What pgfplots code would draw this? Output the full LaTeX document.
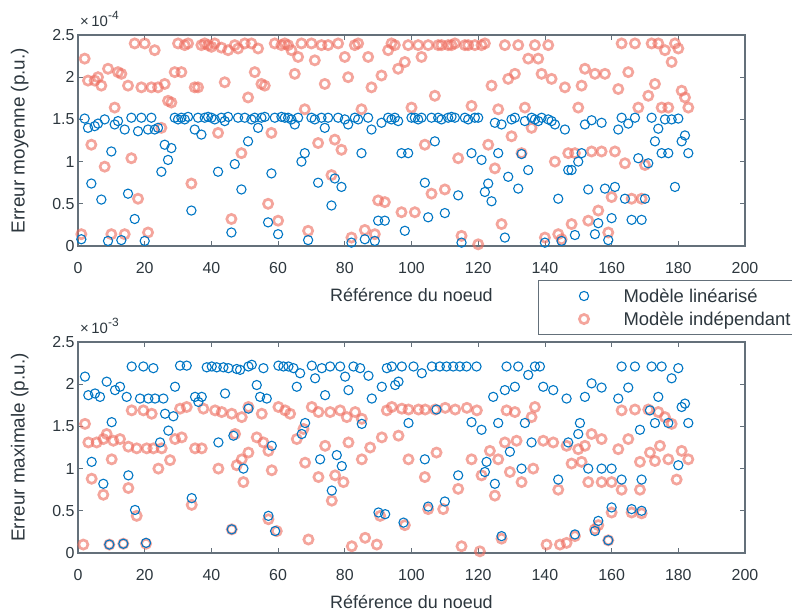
\documentclass[border=0pt]{standalone}
\usepackage{pgfplots}
\pgfplotsset{compat=1.18}
\usepackage{fontspec}
\setmainfont{Liberation Sans}
\definecolor{mblue}{RGB}{0,118,196}
\definecolor{mred}{RGB}{238,110,96}
\definecolor{axcol}{RGB}{100,112,122}
\definecolor{txtcol}{RGB}{45,55,62}
\pgfplotsset{
  mystyle/.style={
    scale only axis, width=667bp, height=211bp,
    xmin=0, xmax=200, ymin=0, ymax=2.5,
    xtick={0,20,...,200}, ytick={0,0.5,1,1.5,2,2.5},
    yticklabels={0,0.5,1,1.5,2,2.5},
    tick align=inside, axis line style={axcol, line width=1.2bp},
    major tick style={axcol, line width=0.8bp}, major tick length=5bp,
    every tick label/.append style={font=\fontsize{16}{18}\selectfont, text=txtcol},
    every x tick label/.append style={yshift=-13bp},
    /pgf/number format/assume math mode=true,
    label style={text=txtcol},
    xlabel={Référence du noeud},
    xlabel style={yshift=-8bp, font=\fontsize{18}{20}\selectfont},
    ylabel style={yshift=17bp, font=\fontsize{19}{21}\selectfont},
    clip=false,
  },
  bl/.style={only marks, mark=o, mark size=4.6bp, mblue, mark options={line width=1.1bp}},
  rd/.style={only marks, mark=o, mark size=4.6bp, mred, mark options={line width=2.7bp, draw opacity=0.62}},
}
\begin{document}
\begin{tikzpicture}
\begin{axis}[mystyle, at={(0,0)}, anchor=north west,
  ylabel={Erreur moyenne (p.u.)},
  legend cell align=left,
  legend style={at={(axis description cs:0.6897,-0.161)}, anchor=north west,
    draw=axcol, line width=1bp, font=\fontsize{18.5}{20}\selectfont, text=txtcol,
    inner xsep=2bp, inner ysep=6bp, row sep=4bp},
  legend image code/.code={\path (0bp,0bp) (80bp,0bp); \draw[#1] plot coordinates {(43bp,0bp)};},
]
\node[anchor=south west, font=\fontsize{15}{17}\selectfont, text=txtcol, inner sep=0pt] at (rel axis cs:0,1) [yshift=8bp,xshift=2bp] {×\,10\raisebox{7bp}{\fontsize{12}{13}\selectfont -4}};
\addplot[rd, forget plot] coordinates {
(1,0.14)(2,2.22)(3,1.96)(4,1.20)(5,1.96)(6,2.00)(7,1.90)(8,0.94)(9,2.10)(10,0.14)
(11,1.64)(12,2.06)(13,2.04)(14,0.14)(15,1.90)(16,1.04)(17,2.40)(18,0.56)(19,1.88)(20,2.40)
(21,0.16)(22,1.88)(23,2.32)(24,1.88)(25,1.40)(26,1.92)(27,1.72)(28,1.70)(29,2.06)(30,2.40)
(31,2.06)(32,2.38)(33,2.40)(34,0.74)(35,1.88)(36,1.88)(37,2.38)(38,2.40)(39,2.38)(40,2.36)
(41,2.40)(42,1.34)(43,2.35)(44,1.94)(45,2.32)(46,0.32)(47,2.38)(48,2.34)(49,1.10)(50,2.40)
(51,1.76)(52,2.40)(53,2.06)(54,2.34)(55,1.92)(56,1.90)(57,0.50)(58,1.34)(59,2.40)(60,0.30)
(61,2.38)(62,2.40)(63,2.38)(64,2.32)(65,2.04)(66,2.24)(67,2.40)(68,1.62)(69,0.18)(70,2.40)
(71,2.20)(72,1.22)(73,2.38)(74,1.92)(75,2.38)(76,0.84)(77,1.26)(78,2.40)(79,1.14)(80,2.24)
(81,2.00)(82,0.10)(83,2.38)(84,2.40)(85,1.62)(86,0.19)(87,2.24)(88,1.88)(89,0.14)(90,0.54)
(91,2.02)(92,0.52)(93,2.32)(94,2.40)(95,2.38)(96,2.10)(97,0.40)(98,2.18)(99,2.38)(100,1.64)
(101,0.40)(102,2.38)(103,2.24)(104,1.20)(105,2.38)(106,0.62)(107,1.78)(108,2.38)(109,2.38)(110,0.67)
(111,2.38)(112,2.38)(113,2.40)(114,1.04)(115,0.12)(116,2.38)(117,2.38)(118,1.66)(119,2.38)(120,0.02)
(121,2.38)(122,2.40)(123,1.20)(124,1.90)(125,0.92)(126,1.62)(127,0.26)(128,2.38)(129,1.98)(130,1.30)
(131,2.04)(132,2.38)(133,1.10)(134,1.64)(135,2.22)(136,1.40)(137,2.38)(138,2.22)(139,2.04)(140,0.10)
(141,2.38)(142,1.98)(143,1.00)(144,0.14)(145,0.08)(146,1.88)(147,1.10)(148,0.26)(149,1.10)(150,1.64)
(151,1.90)(152,2.10)(153,0.30)(154,1.12)(155,2.04)(156,0.42)(157,1.12)(158,2.04)(159,0.16)(160,0.58)
(161,1.12)(162,1.86)(163,2.40)(164,0.98)(165,2.06)(166,0.56)(167,2.40)(168,1.64)(169,0.56)(170,0.96)
(171,1.78)(172,2.40)(173,1.92)(174,2.40)(175,1.64)(176,2.32)(177,1.64)(178,2.18)(179,2.40)(180,2.34)
(181,1.84)(182,1.76)(183,1.64)
};
\addplot[bl, forget plot] coordinates {
(1,0.08)(2,1.51)(3,1.40)(4,0.74)(5,1.42)(6,1.45)(7,0.55)(8,1.50)(9,0.06)(10,1.12)
(11,1.44)(12,1.48)(13,0.07)(14,1.38)(15,0.62)(16,1.52)(17,0.32)(18,1.36)(19,1.52)(20,0.06)
(21,1.38)(22,1.52)(23,1.38)(24,1.40)(25,0.88)(26,1.20)(27,1.02)(28,1.16)(29,1.52)(30,1.50)
(31,1.52)(32,1.50)(33,1.53)(34,0.42)(35,1.38)(36,1.52)(37,1.32)(38,1.52)(39,1.53)(40,1.52)
(41,1.50)(42,0.88)(43,1.52)(44,1.48)(45,1.53)(46,0.16)(47,0.97)(48,1.52)(49,0.67)(50,1.52)
(51,1.24)(52,1.50)(53,1.52)(54,1.40)(55,1.52)(56,1.53)(57,0.28)(58,0.86)(59,1.52)(60,0.14)
(61,1.53)(62,1.52)(63,1.52)(64,1.50)(65,1.44)(66,1.52)(67,1.00)(68,1.10)(69,0.07)(70,1.52)
(71,1.50)(72,0.75)(73,1.52)(74,1.40)(75,1.52)(76,0.48)(77,0.80)(78,1.52)(79,0.70)(80,1.50)
(81,1.44)(82,0.04)(83,1.52)(84,1.50)(85,1.10)(86,0.08)(87,1.52)(88,1.38)(89,0.06)(90,0.30)
(91,1.46)(92,0.30)(93,1.52)(94,1.50)(95,1.52)(96,1.48)(97,1.10)(98,0.18)(99,1.10)(100,1.52)
(101,1.52)(102,1.50)(103,1.52)(104,0.75)(105,0.34)(106,1.52)(107,1.24)(108,1.52)(109,1.50)(110,0.39)
(111,1.52)(112,1.53)(113,1.52)(114,0.60)(115,0.04)(116,1.52)(117,1.50)(118,1.10)(119,1.52)(120,1.52)
(121,1.02)(122,0.64)(123,0.74)(124,0.53)(125,1.46)(126,1.10)(127,1.44)(128,0.10)(129,0.82)(130,1.50)
(131,1.52)(132,0.68)(133,1.09)(134,1.48)(135,0.90)(136,1.52)(137,1.50)(138,1.48)(139,1.52)(140,0.04)
(141,1.50)(142,1.48)(143,1.44)(144,0.56)(145,0.06)(146,1.38)(147,0.90)(148,0.90)(149,0.13)(150,1.00)
(151,1.10)(152,1.44)(153,0.67)(154,1.49)(155,0.14)(156,0.27)(157,1.46)(158,0.68)(159,0.07)(160,0.33)
(161,0.70)(162,1.38)(163,1.52)(164,0.56)(165,1.45)(166,0.31)(167,1.52)(168,1.04)(169,0.31)(170,0.56)
(171,0.98)(172,1.52)(173,1.24)(174,1.39)(175,1.10)(176,1.50)(177,1.10)(178,1.50)(179,0.70)(180,1.51)
(181,1.24)(182,1.31)(183,1.10)
};
\addlegendimage{bl}
\addlegendentry{Modèle linéarisé}
\addlegendimage{rd}
\addlegendentry{Modèle indépendant}
\end{axis}

\begin{axis}[mystyle, at={(0,-307bp)}, anchor=north west,
  ylabel={Erreur maximale (p.u.)}]
\node[anchor=south west, font=\fontsize{15}{17}\selectfont, text=txtcol, inner sep=0pt] at (rel axis cs:0,1) [yshift=8bp,xshift=2bp] {×\,10\raisebox{7bp}{\fontsize{12}{13}\selectfont -3}};
\addplot[rd] coordinates {
(1.6,0.10)(2.1,1.53)(3.1,1.31)(4.1,0.88)(5.6,1.31)(7.6,1.35)(7.6,0.69)(8.6,1.41)(9.4,0.10)(10.1,1.11)
(10.6,1.33)(12.6,1.35)(13.6,0.11)(15.1,1.26)(15.1,0.77)(16.1,1.69)(17.6,1.24)(17.6,0.44)(19.6,1.69)(20.4,0.11)
(20.6,1.24)(22.1,1.65)(22.6,1.24)(24.1,1.00)(25.1,1.24)(27.6,1.10)(29.1,1.35)(30.6,1.71)(31.1,1.37)(32.6,1.73)
(34.1,0.57)(35.1,1.24)(37.1,1.24)(37.6,1.71)(41.1,1.69)(42.1,1.00)(43.1,1.67)(46.1,1.65)(46.1,0.28)(47.6,1.04)
(47.1,1.41)(49.1,1.61)(49.1,1.11)(49.6,0.84)(51.1,1.73)(51.1,1.19)(53.6,1.37)(55.1,1.65)(55.6,1.31)(57.1,1.21)
(57.1,0.40)(58.1,0.98)(59.6,0.26)(60.1,1.73)(62.1,1.69)(63.6,1.65)(65.6,1.35)(67.6,1.47)(68.1,1.07)(69.1,0.16)
(70.1,1.73)(72.1,1.67)(72.1,0.90)(74.1,1.27)(75.6,1.67)(76.1,0.62)(77.1,0.92)(78.6,1.69)(79.6,0.84)(80.6,1.61)
(81.1,1.31)(82.1,0.08)(83.1,1.67)(85.1,1.59)(85.1,1.11)(86.1,0.18)(87.6,1.25)(89.6,0.10)(90.6,0.44)(91.1,1.37)
(92.6,1.69)(94.1,1.73)(96.1,1.39)(97.1,1.71)
(98,0.33)(99.1,1.70)(99.1,1.11)(102.1,1.70)(104.1,1.70)(104,0.90)(105,0.52)(107.1,1.70)(107.5,1.19)(109.5,0.52)
(110.1,1.72)(113.1,1.70)(114,0.76)(115,0.08)(116.6,1.72)(118,1.11)(119.6,1.69)(120.5,0.02)(121,0.92)(123.5,1.21)
(125,0.68)(126,1.11)(127,0.17)(128,1.31)(128.5,1.69)(129.5,0.96)(131,1.67)(131.5,1.33)(133,0.84)(136,1.61)
(136.5,1.00)(137,1.73)(139.5,1.33)(140.5,0.10)(142.5,1.31)(144,0.75)(144.5,0.10)(146.5,1.27)
(146.5,0.12)(148,1.06)(149,0.20)(150,1.23)(151,1.08)(152,1.27)(153,0.84)(154,1.41)(155,0.28)(156,0.33)
(157,1.35)(157,0.84)(159,0.15)(160,0.84)(160,0.48)(162,1.23)(163,1.69)(163,0.75)(165,1.35)(166,0.48)
(167,1.70)(168.5,1.08)(168.5,0.75)(169,0.47)(171,1.70)(171.5,1.19)(173,1.09)(174,1.67)(174.5,1.27)(176,1.61)
(177,1.11)(178,1.53)(179.5,0.87)(181,1.21)(183,1.11)
};
\addplot[bl] coordinates {
(2.1,2.09)(3.1,1.87)(4.1,1.08)(5.1,1.89)(6.6,1.85)(7.6,0.82)(8.6,2.03)(9.4,0.10)(10.1,1.55)(11.1,1.93)
(12.6,1.97)(13.6,0.11)(14.6,1.85)(15.1,0.92)(16.1,2.21)(17.1,0.51)(18.6,1.83)(19.6,2.21)(20.4,0.12)(21.1,1.83)
(22.6,2.19)(23.1,1.83)(24.6,1.31)(25.6,1.83)(26.1,1.65)(27.1,1.45)(28.6,1.62)(29.1,1.97)(30.6,2.22)(32.6,2.22)
(34.1,0.65)(35.1,1.85)(36.1,1.79)(37.1,1.85)(38.6,2.20)(40.1,2.21)(41.6,2.20)(42.1,1.31)(43.6,2.20)(44.1,1.89)
(45.1,2.19)(46.1,0.28)(46.6,1.39)(47.6,2.18)
(48.6,2.17)(49.6,1.00)(51.1,2.21)(51.1,1.71)(52.1,2.23)(53.6,1.99)(54.6,1.85)(55.6,2.19)(56.6,1.83)(57.1,0.44)
(58.1,1.27)(59.1,0.26)(60.1,2.22)(61.6,2.21)(63.1,2.21)(64.6,2.19)(65.6,1.97)(66.6,2.13)(67.1,1.41)(68.1,1.54)
(70.1,2.22)(71.1,2.07)(72.6,1.11)(73.1,2.19)(74.1,1.87)(75.6,2.21)(76.1,0.74)(77.6,1.16)(78.6,2.21)(79.1,1.03)
(80.1,2.09)(81.1,1.93)(82.6,2.21)(84.6,2.19)(85.1,1.53)(87.1,2.10)(88.1,1.83)(90.1,0.48)(91.1,1.97)(92.1,0.46)
(92.6,2.19)(94.1,2.21)(95.1,1.99)(96.1,2.03)(97.1,2.21)(97.6,0.36)
(99.1,1.54)(100.6,2.21)(103.1,2.13)(104,1.11)(105,0.55)(106.1,2.21)(107.5,1.70)(108.5,2.21)(110,0.61)(110.5,2.21)
(112.5,2.21)(114,0.92)(114.5,2.21)(116.5,2.21)(118,1.55)(119.5,2.21)(121,1.46)(122,0.96)(122.5,1.08)(124.5,1.85)
(125,0.82)(126,1.54)(127,0.20)(128,1.93)(128.5,2.21)(129.5,1.20)(131,1.97)(132,2.21)(133,1.00)(134,1.54)
(135,2.11)(136,1.31)(137,2.21)(138.5,2.21)(139.5,1.97)(142.5,1.93)(144,0.87)(146.5,1.83)(147,1.31)
(149,0.22)(150,1.41)(150.5,1.54)(152,1.85)(153,1.00)(154,2.01)(155,0.26)(156,0.38)(157,1.96)(157,1.00)
(159,0.15)(160,1.00)(160,0.54)(162,1.83)(163,2.21)(163,0.87)(165,1.96)(166,0.52)(167,2.21)(168.5,1.46)
(169,0.87)(169,0.50)(171.5,1.69)(172,2.21)(173,1.54)(174,1.85)(175,2.21)(177,1.54)(178,2.07)(180,2.19)
(180,1.04)(181,1.73)(182,1.77)(183,1.54)
};
\end{axis}
\pgfresetboundingbox
\path[use as bounding box] (-78bp,35bp) rectangle (714bp,-579bp);
\end{tikzpicture}
\end{document}
